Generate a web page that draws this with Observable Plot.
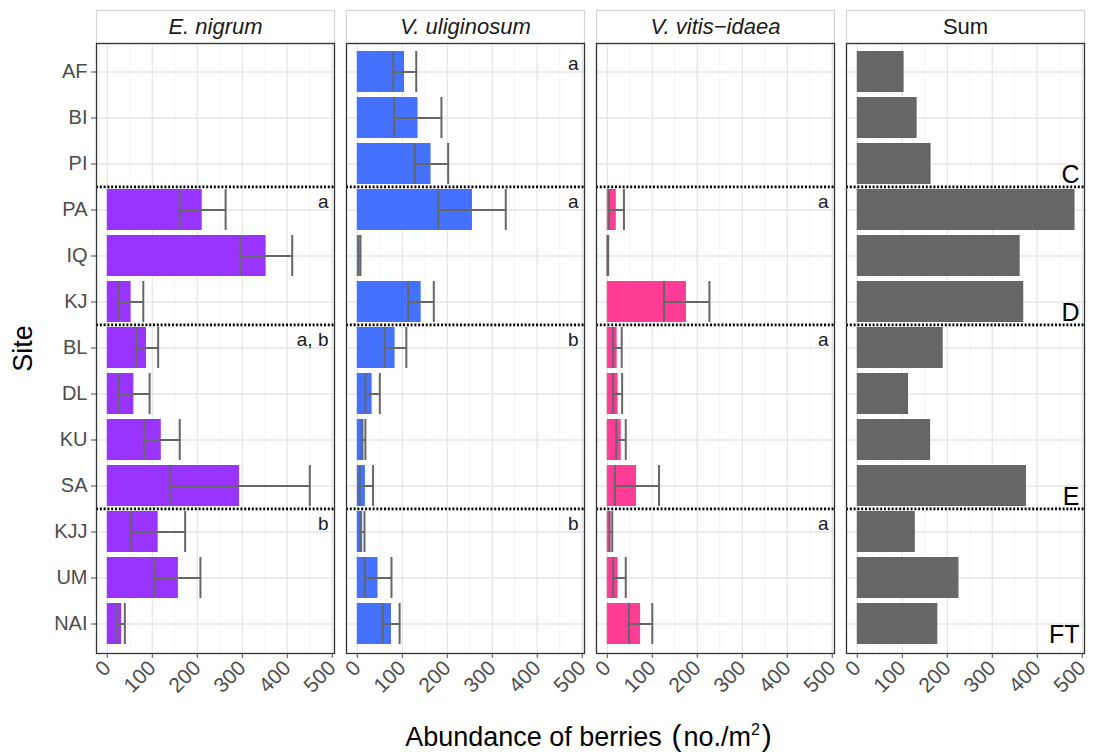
<!DOCTYPE html>
<html>
<head>
<meta charset="utf-8">
<script src="https://cdn.jsdelivr.net/npm/d3@7"></script>
<script src="https://cdn.jsdelivr.net/npm/@observablehq/plot@0.6"></script>
<style>
  body { margin: 0; background: #fff; font-family: "Liberation Sans", Arial, Helvetica, sans-serif; }
  #wrap { position: relative; width: 1093px; height: 752px; }
  #chart svg { display: block; }
  #xtitle { position: absolute; left: 94px; width: 991px; top: 721px; text-align: center;
            font-size: 27px; line-height: 1; color: #000; }
  #xtitle sup { font-size: 16px; vertical-align: 11px; line-height: 0; }
  #xtitle .p { font-size: 30px; margin: 0 2px; }
</style>
</head>
<body>
<div id="wrap">
  <div id="chart"></div>
  <div id="xtitle">Abundance of berries <span class="p">(</span>no./m<sup>2</sup><span class="p">)</span></div>
</div>
<script>
// ---- data ----
const sites = ["AF", "BI", "PI", "PA", "IQ", "KJ", "BL", "DL", "KU", "SA", "KJJ", "UM", "NAI"];
const panels = ["E. nigrum", "V. uliginosum", "V. vitis\u2212idaea", "Sum"];
const panelColors = ["#9933FF", "#4472FF", "#FF3D96", "#666666"];

// E. nigrum: mean, lower, upper
const enMean = [null, null, null, 211, 353, 53, 87, 59, 120, 294, 113, 158, 32];
const enLo   = [null, null, null, 161, 296, 26, 65, 26, 82, 139, 53, 106, 22];
const enHi   = [null, null, null, 263, 411, 80, 113, 94, 161, 450, 173, 207, 39];
// V. uliginosum
const vuMean = [105, 135, 164, 256, 5, 142, 84, 33, 15, 18, 12, 46, 76];
const vuLo   = [80, 82, 128, 180, 3, 113, 61, 18, 10, 5, 7, 17, 57];
const vuHi   = [131, 187, 202, 330, 7, 170, 109, 50, 18, 35, 16, 76, 94];
// V. vitis-idaea
const vvMean = [null, null, null, 20, 1, 176, 22, 24, 31, 65, 8, 24, 74];
const vvLo   = [null, null, null, 4, 0.5, 126, 13, 13, 20, 17, 5, 13, 48];
const vvHi   = [null, null, null, 37, 2, 227, 32, 33, 41, 115, 11, 41, 100];
// Sum
const sumVals = [104, 133, 164, 484, 362, 370, 191, 114, 163, 376, 129, 226, 179];

// groups
const groupNames = ["C", "D", "E", "FT"];
const groupFirst = ["AF", "PA", "BL", "KJJ"];
const groupLast  = ["PI", "KJ", "SA", "NAI"];
const enLetters = ["", "a", "a, b", "b"];
const vuLetters = ["a", "a", "b", "b"];
const vvLetters = ["", "a", "a", "a"];

const majorTicks = [0, 100, 200, 300, 400, 500];
const minorTicks = [50, 150, 250, 350, 450];

// ---- build tables ----
const rows = [];
const series = [[enMean, enLo, enHi], [vuMean, vuLo, vuHi], [vvMean, vvLo, vvHi]];
series.forEach(([m, lo, hi], p) => {
  sites.forEach((s, i) => {
    if (m[i] != null) rows.push({panel: panels[p], site: s, value: m[i], lo: lo[i], hi: hi[i]});
  });
});
sites.forEach((s, i) => rows.push({panel: panels[3], site: s, value: sumVals[i], lo: null, hi: null}));
const errRows = rows.filter(d => d.lo != null);

const letterRows = [];
[enLetters, vuLetters, vvLetters].forEach((L, p) => {
  L.forEach((t, g) => { if (t) letterRows.push({panel: panels[p], site: groupFirst[g], text: t}); });
});
const groupRows = groupNames.map((g, i) => ({panel: panels[3], site: groupLast[i], text: g}));
const dividers = groupFirst.slice(1);

const W = 1093, H = 752, mL = 94, mR = 8, mT = 43, mB = 99;
const innerH = H - mT - mB;
const step = innerH / (sites.length - 0.1 + 0.3);
const font = "Liberation Sans, Arial, Helvetica, sans-serif";

const chart = Plot.plot({
  width: W, height: H,
  marginLeft: mL, marginRight: mR, marginTop: mT, marginBottom: mB,
  style: {fontFamily: font, background: "white", overflow: "visible"},
  fx: {domain: panels, paddingInner: 0.048, paddingOuter: 0, axis: null, label: null},
  x: {domain: [-24, 505], label: null},
  y: {domain: sites, paddingInner: 0.1, paddingOuter: 0.15, label: null},
  color: {domain: panels, range: panelColors},
  marks: [
    // strip box
    Plot.frame({fill: "white", stroke: "#d4d4d4", strokeWidth: 1.2, insetTop: -33, insetBottom: innerH}),
    // grid
    Plot.ruleX(minorTicks, {stroke: "#f0f0f0", strokeWidth: 0.8}),
    Plot.ruleX(majorTicks, {stroke: "#e6e6e6", strokeWidth: 1.3}),
    Plot.ruleY(sites, {stroke: "#e6e6e6", strokeWidth: 1.3}),
    // bars
    Plot.barX(rows, {fx: "panel", y: "site", x: "value", fill: "panel"}),
    // error bars
    Plot.ruleY(errRows, {fx: "panel", y: "site", x1: "lo", x2: "hi", stroke: "#666", strokeWidth: 2}),
    Plot.tickX(errRows, {fx: "panel", y: "site", x: "lo", stroke: "#666", strokeWidth: 2}),
    Plot.tickX(errRows, {fx: "panel", y: "site", x: "hi", stroke: "#666", strokeWidth: 2}),
    // group dividers
    Plot.ruleY(dividers, {y: d => d, dy: -step / 2, stroke: "#000", strokeWidth: 2.6, strokeDasharray: "2,1.8"}),
    // letters
    Plot.text(letterRows, {fx: "panel", y: "site", text: "text", frameAnchor: "right", textAnchor: "end",
      dx: -6, dy: -8, fontSize: 19, fill: "#1a1a1a"}),
    Plot.text(groupRows, {fx: "panel", y: "site", text: "text", frameAnchor: "right", textAnchor: "end",
      dx: -5, dy: 11, fontSize: 25, fill: "#000"}),
    // strip text
    Plot.text(panels.slice(0, 3).map(p => ({panel: p})), {fx: "panel", text: "panel", frameAnchor: "top",
      lineAnchor: "middle", dy: -17, fontSize: 22, fontStyle: "italic", fill: "#1a1a1a"}),
    Plot.text([{panel: panels[3]}], {fx: "panel", text: "panel", frameAnchor: "top",
      lineAnchor: "middle", dy: -17, fontSize: 22, fill: "#1a1a1a"}),
    // y title
    Plot.text([{panel: panels[0], t: "Site"}], {fx: "panel", text: "t", frameAnchor: "left",
      textAnchor: "middle", lineAnchor: "middle", dx: -73, rotate: -90, fontSize: 27, fill: "#000"}),
    // panel border
    Plot.frame({stroke: "#333", strokeWidth: 1.3}),
    // axes
    Plot.axisX({ticks: majorTicks, tickRotate: -45, fontSize: 21, tickSize: 5, tickPadding: 6, color: "#4d4d4d", label: null}),
    Plot.axisY({fontSize: 20, tickSize: 5, color: "#4d4d4d", label: null, tickPadding: 4})
  ]
});
document.getElementById("chart").appendChild(chart);
</script>
</body>
</html>
